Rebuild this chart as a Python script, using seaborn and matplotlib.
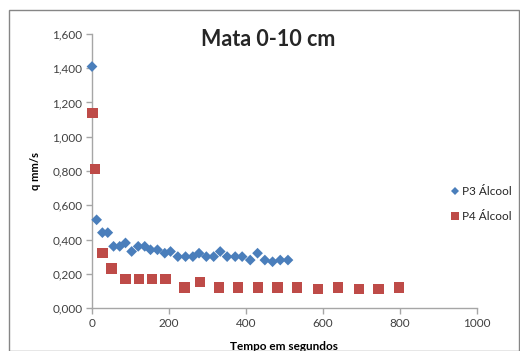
import matplotlib
matplotlib.use("Agg")
import matplotlib.pyplot as plt
import matplotlib.ticker as mticker
from matplotlib.patches import Rectangle
import seaborn as sns
import pandas as pd

p3_t = [0, 12, 27, 41, 56, 72, 87, 103, 120, 137, 152, 170, 189, 204, 223, 243, 262, 278,
        297, 316, 333, 351, 372, 390, 411, 430, 449, 469, 489, 509]
p3_q = [1.41, 0.515, 0.44, 0.44, 0.36, 0.36, 0.38, 0.33, 0.36, 0.36, 0.34, 0.34, 0.32, 0.33,
        0.30, 0.30, 0.30, 0.32, 0.30, 0.30, 0.33, 0.30, 0.30, 0.30, 0.28, 0.32, 0.28, 0.27, 0.28, 0.28]
p4_t = [1, 8, 27, 51, 87, 122, 155, 191, 240, 281, 329, 380, 432, 482, 533, 587, 639, 693, 744, 797]
p4_q = [1.14, 0.81, 0.32, 0.23, 0.17, 0.17, 0.17, 0.17, 0.12, 0.15, 0.12, 0.12, 0.12, 0.12,
        0.12, 0.11, 0.12, 0.11, 0.11, 0.12]
series_names = ["P3 Álcool", "P4 Álcool"]
title = "Mata 0-10 cm"
xlabel = "Tempo em segundos"
ylabel = "q mm/s"

df = pd.concat([
    pd.DataFrame({"t": p3_t, "q": p3_q, "serie": series_names[0]}),
    pd.DataFrame({"t": p4_t, "q": p4_q, "serie": series_names[1]}),
])

sns.set_style("white")
plt.rcParams["font.family"] = ["Lato", "DejaVu Sans"]

fig = plt.figure(figsize=(5.2, 3.51), dpi=100)
ax = fig.add_axes([92/520, 1-308/351, (477-92)/520, (308-34)/351])

sns.scatterplot(data=df, x="t", y="q", hue="serie", style="serie",
                markers={series_names[0]: "D", series_names[1]: "s"},
                palette={series_names[0]: "#4A7EBB", series_names[1]: "#BE4B48"},
                size="serie", sizes={series_names[0]: 30, series_names[1]: 55},
                edgecolor="none", linewidth=0, ax=ax, legend=True, zorder=3, clip_on=False)

ax.set_xlim(0, 1000)
ax.set_ylim(0, 1.6)
ax.xaxis.set_major_locator(mticker.MultipleLocator(200))
ax.yaxis.set_major_locator(mticker.MultipleLocator(0.2))
ax.yaxis.set_major_formatter(mticker.FuncFormatter(lambda v, p: f"{v:.3f}".replace(".", ",")))
for s in ["top", "right"]:
    ax.spines[s].set_visible(False)
for s in ["left", "bottom"]:
    ax.spines[s].set_color("#A6A6A6")
    ax.spines[s].set_linewidth(1.0)
ax.tick_params(axis="both", direction="out", length=4, width=1, color="#A6A6A6",
               labelsize=8.5, labelcolor="#404040", pad=3)
ax.tick_params(axis="both", which="both", left=True, bottom=True)
ax.set_xlabel(xlabel, fontsize=8.5, fontweight="bold", color="black", labelpad=9)
ax.set_ylabel(ylabel, fontsize=8, fontweight="bold", color="black", labelpad=8)
fig.text(268/520, 1-40/351, title, fontsize=15.5, fontweight="bold", ha="center", va="center")

handles, labels = ax.get_legend_handles_labels()
ax.legend(handles, labels, loc="upper left", bbox_to_anchor=(443/520, 1-180/351),
          bbox_transform=fig.transFigure, frameon=False, fontsize=8.5, handletextpad=0.1,
          labelspacing=1.2, borderpad=0, handlelength=1.0, markerscale=0.75)

fig.add_artist(Rectangle((9/520, 0), 1-9/520-1/520, 1-10/351, transform=fig.transFigure,
                         fill=False, edgecolor="#868686", linewidth=1))
fig.savefig("out.png", dpi=100)
